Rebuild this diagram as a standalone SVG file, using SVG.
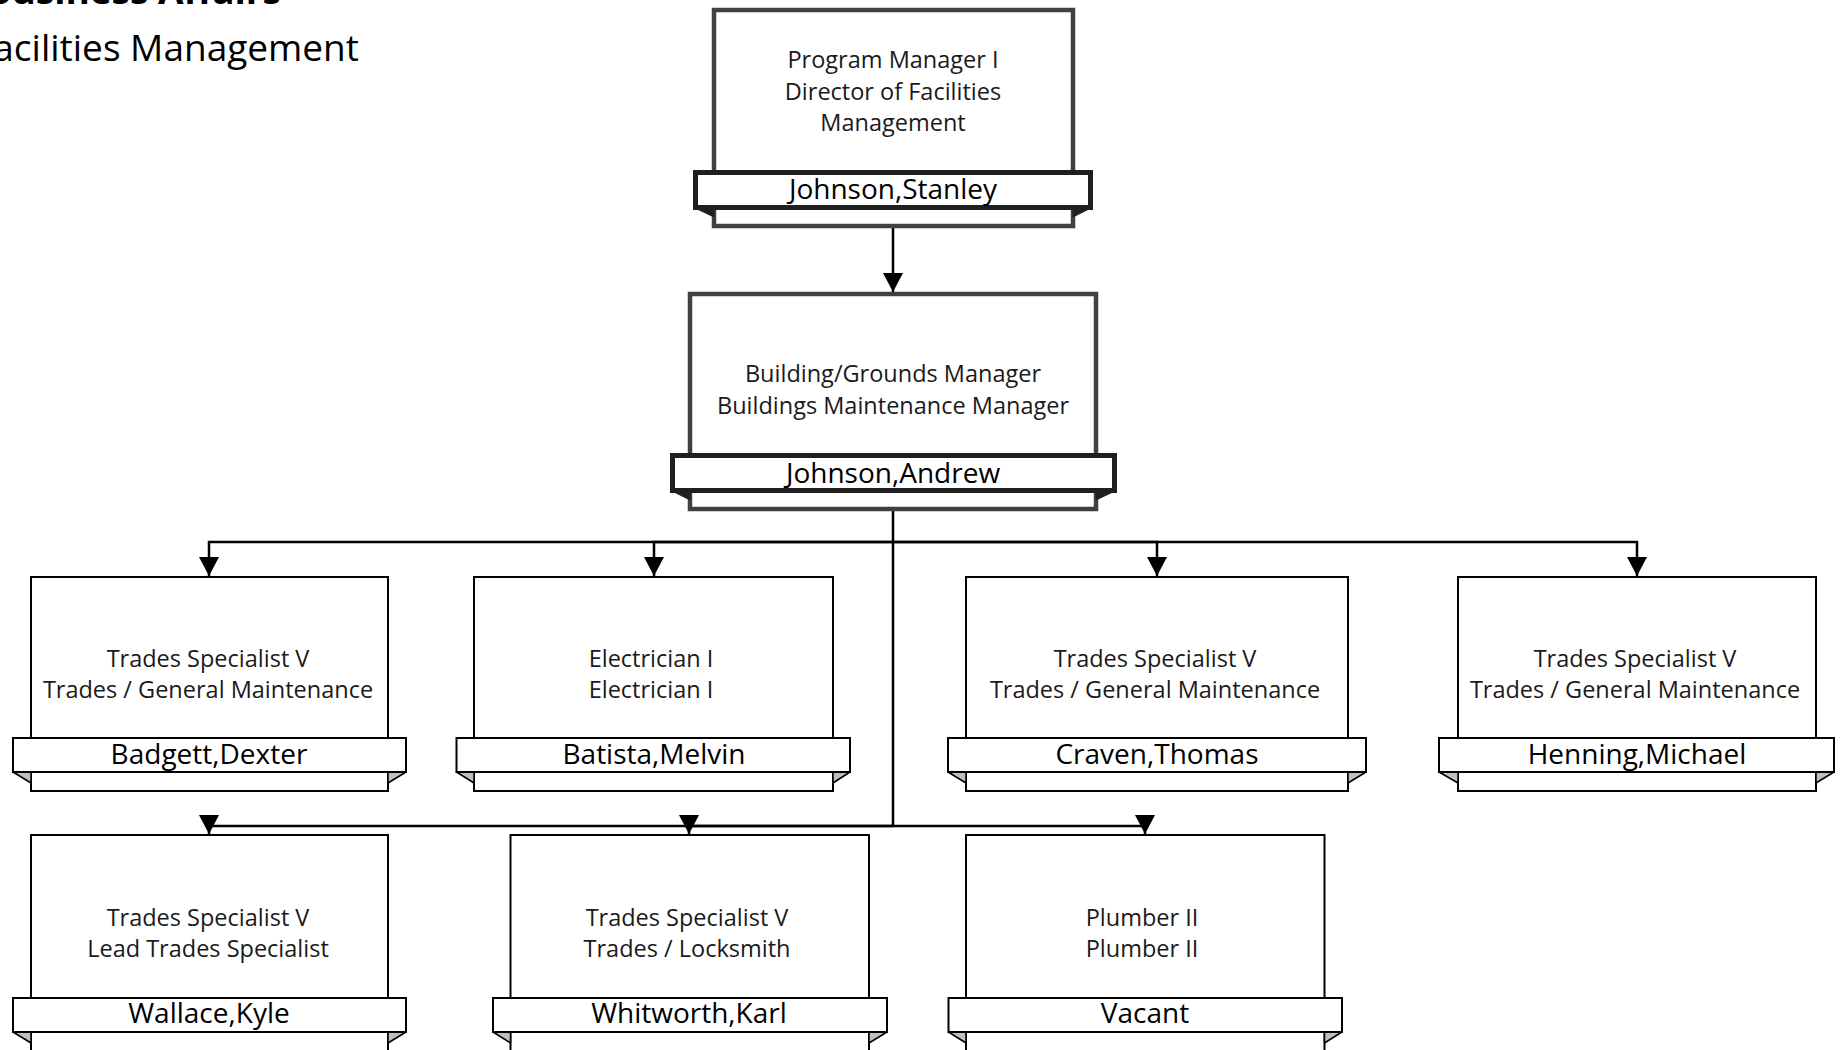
<svg xmlns="http://www.w3.org/2000/svg" width="1841" height="1050" viewBox="0 0 1841 1050">
<style>
  text { font-family: "Open Sans", "Liberation Sans", sans-serif; fill: #1a1a1a; text-anchor: middle; }
  .title { font-size: 37px; text-anchor: end; fill: #000; }
  .t { font-size: 23.5px; }
  .n { font-size: 28px; fill: #000; }
  .bigbox { fill: #fff; stroke: #404040; stroke-width: 4.5; }
  .bigban { fill: #fff; stroke: #1f1f1f; stroke-width: 5; }
  .bigfold { fill: #1f1f1f; stroke: #1f1f1f; stroke-width: 1; }
  .box { fill: #fff; stroke: #000; stroke-width: 2; }
  .ban { fill: #fff; stroke: #000; stroke-width: 2; }
  .fold { fill: #bfbfbf; stroke: #000; stroke-width: 1.5; stroke-linejoin: round; }
  .conn { fill: none; stroke: #000; stroke-width: 2.5; }
</style>
<defs>
  <marker id="arr" markerUnits="userSpaceOnUse" viewBox="0 0 19 20" refX="19" refY="10" markerWidth="19" markerHeight="20" orient="auto">
    <path d="M0,0 L19,10 L0,20 z" fill="#000"/>
  </marker>
</defs>
<rect width="1841" height="1050" fill="#fff"/>

<g id="title">
  <text class="title" x="281" y="4" font-weight="bold">Business Affairs</text>
  <text class="title" x="359" y="61">Facilities Management</text>
</g>

<g id="connectors">
  <path class="conn" d="M893,228 V292" marker-end="url(#arr)"/>
  <path class="conn" d="M893,511 V826" stroke-width="3"/>
  <path class="conn" d="M893,542 H209 V576" marker-end="url(#arr)"/>
  <path class="conn" d="M893,542 H654 V576" marker-end="url(#arr)"/>
  <path class="conn" d="M893,542 H1157 V576" marker-end="url(#arr)"/>
  <path class="conn" d="M893,542 H1637 V576" marker-end="url(#arr)"/>
  <path class="conn" d="M893,826 H209 V834" marker-end="url(#arr)"/>
  <path class="conn" d="M893,826 H689 V834" marker-end="url(#arr)"/>
  <path class="conn" d="M893,826 H1145 V834" marker-end="url(#arr)"/>
</g>

<g id="node-director">
  <rect class="bigbox" x="714" y="10" width="359" height="216"/>
  <polygon class="bigfold" points="695,208 714,208 714,217"/>
  <polygon class="bigfold" points="1091,208 1073,208 1073,217"/>
  <rect class="bigban" x="695.5" y="172.5" width="395" height="35"/>
  <text class="t" x="893" y="68">Program Manager I</text>
  <text class="t" x="893" y="100">Director of Facilities</text>
  <text class="t" x="893" y="131">Management</text>
  <text class="n" x="893" y="199">Johnson,Stanley</text>
</g>

<g id="node-manager">
  <rect class="bigbox" x="690" y="294" width="406" height="215"/>
  <polygon class="bigfold" points="672,491 690,491 690,500"/>
  <polygon class="bigfold" points="1115,491 1096,491 1096,500"/>
  <rect class="bigban" x="672.5" y="455.5" width="442" height="35"/>
  <text class="t" x="893" y="382">Building/Grounds Manager</text>
  <text class="t" x="893" y="414">Buildings Maintenance Manager</text>
  <text class="n" x="893" y="483">Johnson,Andrew</text>
</g>

<g id="node-badgett">
  <rect class="box" x="31" y="577" width="357" height="214"/>
  <polygon class="fold" points="13,772 31,772 31,783"/>
  <polygon class="fold" points="406,772 388,772 388,783"/>
  <rect class="ban" x="13" y="738" width="393" height="34"/>
  <text class="t" x="208" y="667">Trades Specialist V</text>
  <text class="t" x="208" y="698">Trades  / General Maintenance</text>
  <text class="n" x="209" y="764">Badgett,Dexter</text>
</g>

<g id="node-batista">
  <rect class="box" x="474" y="577" width="359" height="214"/>
  <polygon class="fold" points="456.5,772 474,772 474,783"/>
  <polygon class="fold" points="850,772 833,772 833,783"/>
  <rect class="ban" x="456.5" y="738" width="393.5" height="34"/>
  <text class="t" x="651" y="667">Electrician I</text>
  <text class="t" x="651" y="698">Electrician I</text>
  <text class="n" x="654" y="764">Batista,Melvin</text>
</g>

<g id="node-craven">
  <rect class="box" x="966" y="577" width="382" height="214"/>
  <polygon class="fold" points="948,772 966,772 966,783"/>
  <polygon class="fold" points="1366,772 1348,772 1348,783"/>
  <rect class="ban" x="948" y="738" width="418" height="34"/>
  <text class="t" x="1155" y="667">Trades Specialist V</text>
  <text class="t" x="1155" y="698">Trades / General Maintenance</text>
  <text class="n" x="1157" y="764">Craven,Thomas</text>
</g>

<g id="node-henning">
  <rect class="box" x="1458" y="577" width="358" height="214"/>
  <polygon class="fold" points="1439,772 1458,772 1458,783"/>
  <polygon class="fold" points="1834,772 1816,772 1816,783"/>
  <rect class="ban" x="1439" y="738" width="395" height="34"/>
  <text class="t" x="1635" y="667">Trades Specialist V</text>
  <text class="t" x="1635" y="698">Trades / General Maintenance</text>
  <text class="n" x="1637" y="764">Henning,Michael</text>
</g>

<g id="node-wallace">
  <rect class="box" x="31" y="835" width="357" height="240"/>
  <polygon class="fold" points="13,1032 31,1032 31,1043"/>
  <polygon class="fold" points="406,1032 388,1032 388,1043"/>
  <rect class="ban" x="13" y="998" width="393" height="34"/>
  <text class="t" x="208" y="926">Trades Specialist V</text>
  <text class="t" x="208" y="957">Lead Trades Specialist</text>
  <text class="n" x="209" y="1023">Wallace,Kyle</text>
</g>

<g id="node-whitworth">
  <rect class="box" x="510.5" y="835" width="358.5" height="240"/>
  <polygon class="fold" points="493,1032 510.5,1032 510.5,1043"/>
  <polygon class="fold" points="887,1032 869,1032 869,1043"/>
  <rect class="ban" x="493" y="998" width="394" height="34"/>
  <text class="t" x="687" y="926">Trades Specialist V</text>
  <text class="t" x="687" y="957">Trades / Locksmith</text>
  <text class="n" x="689" y="1023">Whitworth,Karl</text>
</g>

<g id="node-vacant">
  <rect class="box" x="966" y="835" width="358.5" height="240"/>
  <polygon class="fold" points="948.5,1032 966,1032 966,1043"/>
  <polygon class="fold" points="1342,1032 1324.5,1032 1324.5,1043"/>
  <rect class="ban" x="948.5" y="998" width="393.5" height="34"/>
  <text class="t" x="1142" y="926">Plumber II</text>
  <text class="t" x="1142" y="957">Plumber II</text>
  <text class="n" x="1145" y="1023">Vacant</text>
</g>
</svg>
